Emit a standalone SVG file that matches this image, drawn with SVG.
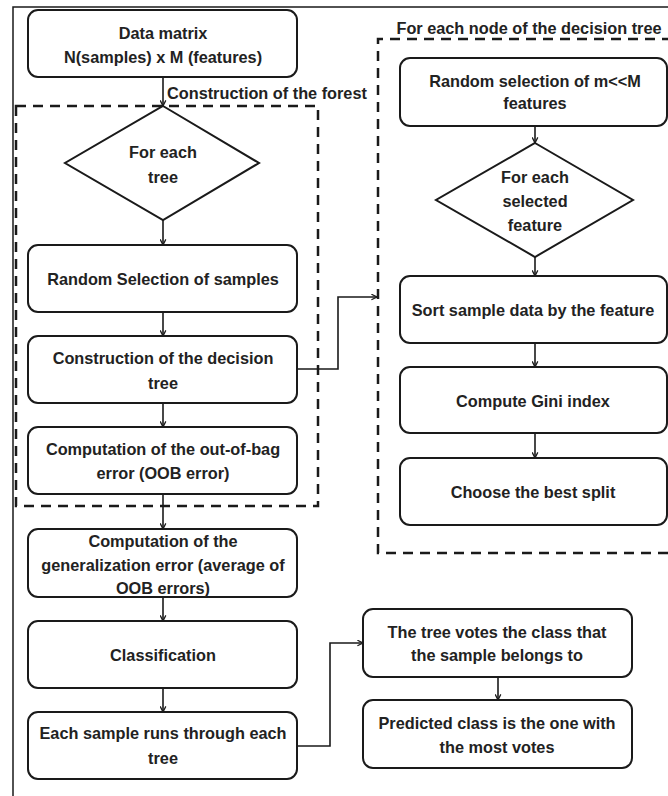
<svg xmlns="http://www.w3.org/2000/svg" width="668" height="796" viewBox="0 0 668 796">
<style>
  .box { fill: #ffffff; stroke: #1a1a1a; stroke-width: 2; }
  .dash { fill: none; stroke: #1a1a1a; stroke-width: 2.5; stroke-dasharray: 10 7; }
  .frame { fill: none; stroke: #1a1a1a; stroke-width: 1.5; }
  .conn { fill: none; stroke: #1a1a1a; stroke-width: 1.6; }
  text { font-family: "Liberation Sans", Arial, sans-serif; font-weight: bold; font-size: 16.3px; fill: #222222; text-anchor: middle; dominant-baseline: central; }
  .lbl { text-anchor: start; }
</style>
<defs>
  <marker id="ah" viewBox="0 0 10 10" refX="9" refY="5" markerWidth="7" markerHeight="7" markerUnits="userSpaceOnUse" orient="auto">
    <path d="M1,1 L9,5 L1,9" fill="none" stroke="#1a1a1a" stroke-width="1.8"/>
  </marker>
</defs>
<rect width="668" height="796" fill="#ffffff"/>
<path class="frame" d="M13,796 L13,7 L668,7"/>

<g id="forest-group">
  <rect class="dash" x="16" y="106" width="302" height="400"/>
  <text class="lbl" x="167" y="93">Construction of  the forest</text>
</g>
<g id="node-group">
  <path class="dash" d="M672,39 L378,39 L378,553 L672,553"/>
  <text x="529" y="28">For each node of the decision tree</text>
</g>

<g id="connectors">
  <path class="conn" marker-end="url(#ah)" d="M163,77 L163,106"/>
  <path class="conn" marker-end="url(#ah)" d="M163,220 L163,245"/>
  <path class="conn" marker-end="url(#ah)" d="M163,312 L163,336"/>
  <path class="conn" marker-end="url(#ah)" d="M163,403 L163,427"/>
  <path class="conn" marker-end="url(#ah)" d="M163,494 L163,529"/>
  <path class="conn" marker-end="url(#ah)" d="M163,597 L163,621"/>
  <path class="conn" marker-end="url(#ah)" d="M163,688 L163,712"/>
  <path class="conn" marker-end="url(#ah)" d="M297,369 L338,369 L338,297 L377,297"/>
  <path class="conn" marker-end="url(#ah)" d="M297,746 L330,746 L330,643 L363,643"/>
  <path class="conn" marker-end="url(#ah)" d="M535,126 L535,143"/>
  <path class="conn" marker-end="url(#ah)" d="M535,257 L535,276"/>
  <path class="conn" marker-end="url(#ah)" d="M535,343 L535,367"/>
  <path class="conn" marker-end="url(#ah)" d="M535,433 L535,458"/>
  <path class="conn" marker-end="url(#ah)" d="M498,677 L498,700"/>
</g>

<g id="data-matrix">
  <rect class="box" x="28" y="10" width="269" height="67" rx="10"/>
  <text x="163" y="33">Data matrix</text>
  <text x="163" y="57">N(samples) x M (features)</text>
</g>
<g id="for-each-tree">
  <polygon class="box" points="163,106 259,163 163,220 65,163"/>
  <text x="163" y="152">For each</text>
  <text x="163" y="177">tree</text>
</g>
<g id="random-samples">
  <rect class="box" x="28" y="245" width="269" height="67" rx="10"/>
  <text x="163" y="279">Random Selection of  samples</text>
</g>
<g id="construct-tree">
  <rect class="box" x="28" y="336" width="269" height="67" rx="10"/>
  <text x="163" y="358">Construction of the decision</text>
  <text x="163" y="383">tree</text>
</g>
<g id="oob-error">
  <rect class="box" x="28" y="427" width="269" height="67" rx="10"/>
  <text x="163" y="449">Computation of the out-of-bag</text>
  <text x="163" y="473">error (OOB error)</text>
</g>
<g id="generalization-error">
  <rect class="box" x="28" y="529" width="269" height="68" rx="10"/>
  <text x="163" y="541">Computation of the</text>
  <text x="163" y="565">generalization error (average of</text>
  <text x="163" y="588">OOB errors)</text>
</g>
<g id="classification">
  <rect class="box" x="28" y="621" width="269" height="67" rx="10"/>
  <text x="163" y="655">Classification</text>
</g>
<g id="each-sample">
  <rect class="box" x="28" y="712" width="269" height="67" rx="10"/>
  <text x="163" y="733">Each sample runs through each</text>
  <text x="163" y="758">tree</text>
</g>

<g id="random-features">
  <rect class="box" x="400" y="58" width="267" height="68" rx="10"/>
  <text x="535" y="81">Random selection of m&lt;&lt;M</text>
  <text x="535" y="103">features</text>
</g>
<g id="for-each-feature">
  <polygon class="box" points="535,143 633,200 535,257 436,200"/>
  <text x="535" y="177">For each</text>
  <text x="535" y="201">selected</text>
  <text x="535" y="225">feature</text>
</g>
<g id="sort-data">
  <rect class="box" x="400" y="276" width="267" height="67" rx="10"/>
  <text x="533" y="310">Sort sample data by the feature</text>
</g>
<g id="gini">
  <rect class="box" x="400" y="367" width="267" height="66" rx="10"/>
  <text x="533" y="401">Compute Gini index</text>
</g>
<g id="best-split">
  <rect class="box" x="400" y="458" width="267" height="67" rx="10"/>
  <text x="533" y="492">Choose the best split</text>
</g>

<g id="tree-votes">
  <rect class="box" x="363" y="609" width="269" height="68" rx="10"/>
  <text x="497" y="632">The tree votes the class that</text>
  <text x="497" y="655">the sample belongs to</text>
</g>
<g id="predicted-class">
  <rect class="box" x="363" y="700" width="269" height="68" rx="10"/>
  <text x="497" y="723">Predicted class is the one with</text>
  <text x="497" y="747">the most votes</text>
</g>
</svg>
